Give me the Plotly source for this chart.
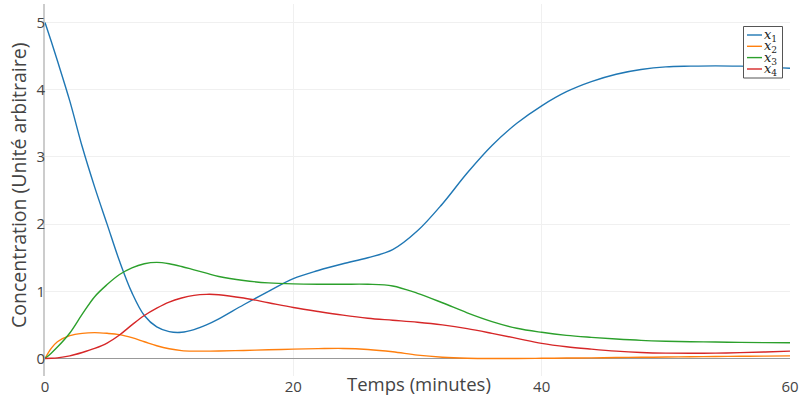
import plotly.graph_objects as go

# ---- data ----
t = [0, 0.5, 1, 2, 3, 4, 5, 6, 7, 8, 9, 10, 11, 12, 13, 14, 16, 18, 20, 22, 24, 26, 28, 30,
     32, 34, 36, 38, 40, 42, 44, 46, 48, 50, 52, 54, 56, 58, 60]
x1 = [5.0, 4.72, 4.43, 3.83, 3.15, 2.55, 2.0, 1.45, 0.98, 0.64, 0.47, 0.40, 0.39, 0.43, 0.50,
      0.59, 0.80, 1.0, 1.19, 1.31, 1.41, 1.50, 1.62, 1.90, 2.30, 2.76, 3.17, 3.50, 3.76, 3.97,
      4.12, 4.23, 4.30, 4.34, 4.35, 4.355, 4.35, 4.34, 4.32]
x2 = [0.0, 0.15, 0.25, 0.34, 0.375, 0.385, 0.375, 0.355, 0.31, 0.25, 0.19, 0.145, 0.118, 0.11,
      0.11, 0.112, 0.12, 0.13, 0.14, 0.147, 0.15, 0.135, 0.10, 0.05, 0.02, 0.005, 0.0, 0.0,
      0.003, 0.007, 0.01, 0.015, 0.018, 0.022, 0.026, 0.03, 0.033, 0.036, 0.04]
x3 = [0.0, 0.08, 0.17, 0.38, 0.66, 0.92, 1.10, 1.25, 1.35, 1.41, 1.43, 1.41, 1.37, 1.32, 1.27,
      1.22, 1.16, 1.125, 1.11, 1.105, 1.105, 1.105, 1.08, 0.97, 0.83, 0.68, 0.55, 0.45, 0.39,
      0.345, 0.315, 0.29, 0.27, 0.258, 0.25, 0.245, 0.24, 0.237, 0.235]
x4 = [0.0, 0.003, 0.01, 0.04, 0.09, 0.15, 0.23, 0.35, 0.50, 0.64, 0.75, 0.84, 0.90, 0.94, 0.955,
      0.95, 0.90, 0.83, 0.76, 0.70, 0.645, 0.60, 0.57, 0.54, 0.50, 0.445, 0.375, 0.30, 0.225,
      0.175, 0.14, 0.11, 0.09, 0.08, 0.078, 0.08, 0.088, 0.098, 0.11]
names = ["<i>x</i><sub>1</sub>", "<i>x</i><sub>2</sub>", "<i>x</i><sub>3</sub>", "<i>x</i><sub>4</sub>"]
colors = ["#1f77b4", "#ff7f0e", "#2ca02c", "#d62728"]
series = [x1, x2, x3, x4]

W, H = 799, 402
ML, MR, MT, MB = 45, 9, 4, 26
PW, PH = W - ML - MR, H - MT - MB


def px(xpix):
    return (xpix - ML) / PW


def py(ypix):
    return (H - MB - ypix) / PH


fig = go.Figure()
for s, n, c in zip(series, names, colors):
    fig.add_trace(go.Scatter(x=t, y=s, mode="lines", name=n,
                             line=dict(color=c, width=1.4, shape="spline", smoothing=1.0),
                             showlegend=False))

# custom compact legend
shapes = [dict(type="rect", xref="paper", yref="paper", x0=px(743.5), x1=px(782.5),
               y0=py(78), y1=py(26.5), line=dict(color="#555", width=1),
               fillcolor="white", layer="above")]
annotations = []
row_y = [35, 46.3, 57.6, 69]
for i, (n, c) in enumerate(zip(names, colors)):
    shapes.append(dict(type="line", xref="paper", yref="paper", x0=px(747), x1=px(762),
                       y0=py(row_y[i]), y1=py(row_y[i]), line=dict(color=c, width=1.4),
                       layer="above"))
    annotations.append(dict(text=n, xref="paper", yref="paper", x=px(762), y=py(row_y[i] + 0.5),
                            xanchor="left", yanchor="middle", showarrow=False,
                            font=dict(family="DejaVu Serif", size=13, color="#222")))

annotations.append(dict(text="Temps (minutes)", xref="paper", yref="paper", x=px(419),
                        y=py(383), xanchor="center", yanchor="middle", showarrow=False,
                        font=dict(family="Open Sans", size=18.5, color="#444")))
annotations.append(dict(text="Concentration (Unité arbitraire)", xref="paper", yref="paper",
                        x=px(18), y=py(186), xanchor="center", yanchor="middle",
                        textangle=-90, showarrow=False,
                        font=dict(family="Open Sans", size=19.5, color="#444")))

fig.update_layout(
    width=W, height=H,
    margin=dict(l=ML, r=MR, t=MT, b=MB, autoexpand=False),
    paper_bgcolor="white", plot_bgcolor="white",
    font=dict(family="Open Sans", size=14, color="#444"),
    shapes=shapes, annotations=annotations,
    xaxis=dict(range=[0, 60], tickvals=[0, 20, 40, 60], showgrid=True, gridcolor="#f0f0f0",
               zeroline=False, showline=False, ticks="", tickfont=dict(size=15),
               automargin=False),
    yaxis=dict(range=[-0.26, 5.275], tickvals=[0, 1, 2, 3, 4, 5], showgrid=True,
               gridcolor="#f0f0f0", zeroline=True, zerolinecolor="#999", zerolinewidth=1,
               showline=True, linecolor="#ccc", linewidth=2, ticks="",
               tickfont=dict(size=15), automargin=False, ticklabelstandoff=-5),
)
fig.write_html("out.html", config={"displayModeBar": False},
               post_script="document.body.style.margin='0px';")
